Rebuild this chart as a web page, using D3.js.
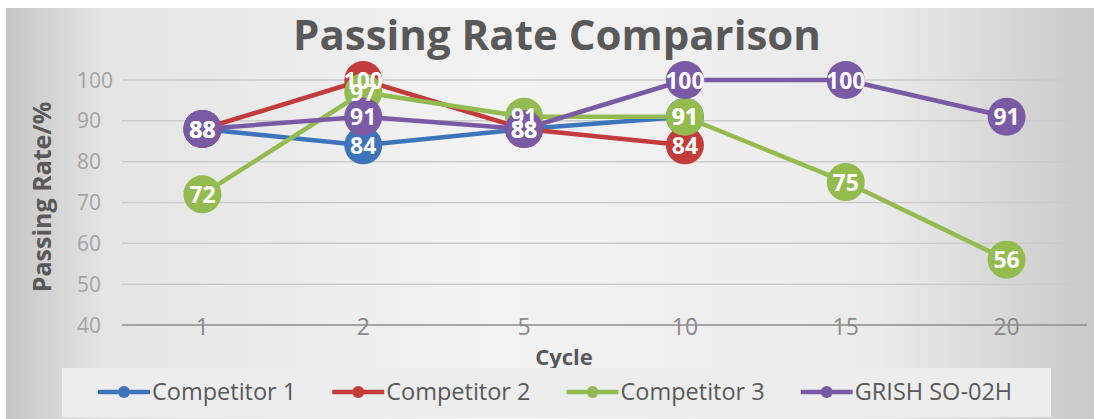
<!DOCTYPE html>
<html>
<head>
<meta charset="utf-8">
<script src="https://cdn.jsdelivr.net/npm/d3@7"></script>
<style>
  body { margin: 0; background: #fff; }
  svg { display: block; font-family: "Open Sans", sans-serif; }
</style>
</head>
<body>
<script>
let width = 1094;
let height = 419;

// data
let cycles = ["1", "2", "5", "10", "15", "20"];
let competitor1 = [88, 84, 88, 91, null, null];
let competitor2 = [88, 100, 88, 84, null, null];
let competitor3 = [72, 97, 91, 91, 75, 56];
let grish = [88, 91, 88, 100, 100, 91];
let seriesNames = ["Competitor 1", "Competitor 2", "Competitor 3", "GRISH SO-02H"];
let seriesColors = ["#3d74bb", "#c33b3a", "#94bb4f", "#7b5aa5"];
let yTicks = [40, 50, 60, 70, 80, 90, 100];

let allSeries = [competitor1, competitor2, competitor3, grish].map(function(vals, i) {
  return {
    name: seriesNames[i],
    color: seriesColors[i],
    points: vals
      .map(function(v, j) { return { cycle: cycles[j], value: v }; })
      .filter(function(d) { return d.value !== null; })
  };
});

let svg = d3.select("body").append("svg")
  .attr("width", width)
  .attr("height", height);

let defs = svg.append("defs");
let grad = defs.append("linearGradient")
  .attr("id", "bg")
  .attr("x1", "0%").attr("x2", "100%")
  .attr("y1", "0%").attr("y2", "0%");
grad.append("stop").attr("offset", "0%").attr("stop-color", "#c6c6c6");
grad.append("stop").attr("offset", "9%").attr("stop-color", "#e4e4e4");
grad.append("stop").attr("offset", "45%").attr("stop-color", "#f3f3f3");
grad.append("stop").attr("offset", "80%").attr("stop-color", "#ebebeb");
grad.append("stop").attr("offset", "100%").attr("stop-color", "#c9c9c9");

svg.append("rect")
  .attr("x", 6).attr("y", 8)
  .attr("width", width - 6).attr("height", height - 8)
  .attr("fill", "url(#bg)");

let plotLeft = 122, plotRight = 1087, plotTop = 80, plotBottom = 325;

let x = d3.scalePoint().domain(cycles).range([plotLeft, plotRight]).padding(0.5);
let y = d3.scaleLinear().domain([40, 100]).range([plotBottom, plotTop]);

// gridlines
svg.append("g")
  .selectAll("line")
  .data(yTicks.filter(function(t) { return t > 40; }))
  .enter()
  .append("line")
  .attr("x1", plotLeft).attr("x2", plotRight)
  .attr("y1", function(d) { return y(d); })
  .attr("y2", function(d) { return y(d); })
  .attr("stroke", "#cbcbcb")
  .attr("stroke-width", 1.5);

// y tick labels
svg.append("g")
  .selectAll("text")
  .data(yTicks)
  .enter()
  .append("text")
  .attr("x", 77)
  .attr("y", function(d) { return y(d) + 7.5; })
  .attr("font-size", 21)
  .attr("fill", "#a3a3a3")
  .text(function(d) { return d; });

// x tick labels (sit on the axis line like the original)
svg.append("g")
  .selectAll("text")
  .data(cycles)
  .enter()
  .append("text")
  .attr("x", function(d) { return x(d); })
  .attr("y", 335)
  .attr("text-anchor", "middle")
  .attr("font-size", 23)
  .attr("fill", "#8a8a8a")
  .text(function(d) { return d; });

// x axis line
svg.append("line")
  .attr("x1", plotLeft).attr("x2", plotRight)
  .attr("y1", plotBottom).attr("y2", plotBottom)
  .attr("stroke", "#8c8c8c")
  .attr("stroke-width", 1.5);

// title and axis titles
svg.append("text")
  .attr("x", 557).attr("y", 50)
  .attr("text-anchor", "middle")
  .attr("font-size", 42)
  .attr("font-weight", "bold")
  .attr("fill", "#595959")
  .text("Passing Rate Comparison");

svg.append("text")
  .attr("transform", "translate(51,197) rotate(-90)")
  .attr("text-anchor", "middle")
  .attr("font-size", 25)
  .attr("font-weight", "bold")
  .attr("fill", "#595959")
  .text("Passing Rate/%");

svg.append("text")
  .attr("x", 564).attr("y", 365)
  .attr("text-anchor", "middle")
  .attr("font-size", 22)
  .attr("font-weight", "bold")
  .attr("fill", "#595959")
  .text("Cycle");

// lines
let line = d3.line()
  .x(function(d) { return x(d.cycle); })
  .y(function(d) { return y(d.value); });

svg.append("g")
  .selectAll("path")
  .data(allSeries)
  .enter()
  .append("path")
  .attr("d", function(d) { return line(d.points); })
  .attr("fill", "none")
  .attr("stroke", function(d) { return d.color; })
  .attr("stroke-width", 4.5)
  .attr("stroke-linejoin", "round");

// markers
let markerGroups = svg.append("g")
  .selectAll("g")
  .data(allSeries)
  .enter()
  .append("g");
markerGroups.selectAll("circle")
  .data(function(d) { return d.points.map(function(p) { return { p: p, color: d.color }; }); })
  .enter()
  .append("circle")
  .attr("cx", function(d) { return x(d.p.cycle); })
  .attr("cy", function(d) { return y(d.p.value); })
  .attr("r", 19)
  .attr("fill", function(d) { return d.color; });

// data labels on top
let labelGroups = svg.append("g")
  .selectAll("g")
  .data(allSeries)
  .enter()
  .append("g");
labelGroups.selectAll("text")
  .data(function(d) { return d.points; })
  .enter()
  .append("text")
  .attr("x", function(d) { return x(d.cycle); })
  .attr("y", function(d) { return y(d.value) + 8.5; })
  .attr("text-anchor", "middle")
  .attr("font-size", 23)
  .attr("font-weight", "bold")
  .attr("fill", "#ffffff")
  .text(function(d) { return d.value; });

// legend
svg.append("rect")
  .attr("x", 62).attr("y", 368)
  .attr("width", 989).attr("height", 49)
  .attr("fill", "#ededed");

let legendX = 98;
allSeries.forEach(function(s) {
  let g = svg.append("g").attr("transform", "translate(" + legendX + ",392)");
  g.append("line")
    .attr("x1", 0).attr("x2", 52)
    .attr("y1", 0).attr("y2", 0)
    .attr("stroke", s.color)
    .attr("stroke-width", 4.5);
  g.append("circle")
    .attr("cx", 26).attr("cy", 0).attr("r", 6)
    .attr("fill", s.color);
  let t = g.append("text")
    .attr("x", 54).attr("y", 8)
    .attr("font-size", 23.5)
    .attr("fill", "#595959")
    .text(s.name);
  legendX += 54 + t.node().getComputedTextLength() + 36;
});
</script>
</body>
</html>
